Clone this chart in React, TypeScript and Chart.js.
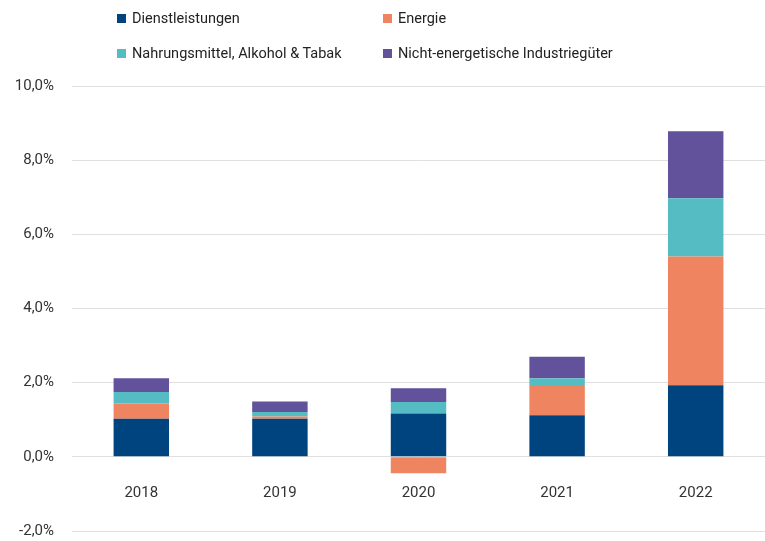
import React, { useEffect, useRef } from "react";
import { Chart, registerables } from "chart.js";

Chart.register(...registerables);

const categories = ["2018", "2019", "2020", "2021", "2022"];
const seriesLabels = [
  "Dienstleistungen",
  "Energie",
  "Nahrungsmittel, Alkohol & Tabak",
  "Nicht-energetische Industriegüter",
];
const dienstleistungen = [1.03, 1.03, 1.17, 1.12, 1.93];
const energie = [0.41, 0.06, -0.44, 0.82, 3.47];
const nahrungsmittel = [0.31, 0.12, 0.31, 0.18, 1.57];
const industriegueter = [0.37, 0.28, 0.37, 0.58, 1.81];
const seriesColors = ["#00447F", "#EE8560", "#54BCC2", "#62519B"];
const yMin = -2;
const yMax = 10;
const yStep = 2;

const FONT = "Roboto, 'DejaVu Sans', sans-serif";

export default function App() {
  const ref = useRef<HTMLCanvasElement | null>(null);

  useEffect(() => {
    if (!ref.current) return;
    const values = [dienstleistungen, energie, nahrungsmittel, industriegueter];
    const chart = new Chart(ref.current, {
      type: "bar",
      data: {
        labels: categories,
        datasets: seriesLabels.map((label, i) => ({
          label,
          data: values[i],
          backgroundColor: seriesColors[i],
          borderWidth: 0,
          categoryPercentage: 0.8,
          barPercentage: 0.5,
        })),
      },
      options: {
        animation: false,
        responsive: false,
        maintainAspectRatio: false,
        layout: { padding: { top: 86, bottom: 11, left: 0, right: 0 } },
        plugins: {
          legend: { display: false },
          tooltip: { enabled: false },
        },
        scales: {
          x: {
            stacked: true,
            position: { y: 0 } as any,
            grid: { display: false, drawTicks: false },
            border: { display: false },
            ticks: {
              padding: 27,
              color: "#333333",
              font: { family: FONT, size: 15 },
            },
          },
          y: {
            stacked: true,
            min: yMin,
            max: yMax,
            ticks: {
              stepSize: yStep,
              padding: 18,
              color: "#333333",
              font: { family: FONT, size: 15 },
              callback: (v: any) => Number(v).toFixed(1).replace(".", ",") + "%",
            },
            grid: { color: "#e0e0e0", lineWidth: 1, drawTicks: false },
            border: { display: false },
            afterFit: (scale: any) => {
              scale.width = 72;
            },
          },
        },
      },
    });
    return () => chart.destroy();
  }, []);

  const legendPos = [
    { left: 117, top: 10 },
    { left: 383, top: 10 },
    { left: 117, top: 45 },
    { left: 383, top: 45 },
  ];

  return (
    <div style={{ position: "fixed", left: 0, top: 0, width: 765, height: 541, background: "#fff", overflow: "hidden" }}>
      <canvas ref={ref} width={765} height={558} style={{ position: "absolute", left: 0, top: 0 }} />
      {seriesLabels.map((label, i) => (
        <div
          key={label}
          style={{
            position: "absolute",
            left: legendPos[i].left,
            top: legendPos[i].top,
            display: "flex",
            alignItems: "center",
            fontFamily: FONT,
            fontSize: 14.5,
            color: "#222",
            whiteSpace: "nowrap",
          }}
        >
          <span style={{ display: "inline-block", width: 9, height: 9, background: seriesColors[i], marginRight: 6 }} />
          <span>{label}</span>
        </div>
      ))}
    </div>
  );
}
